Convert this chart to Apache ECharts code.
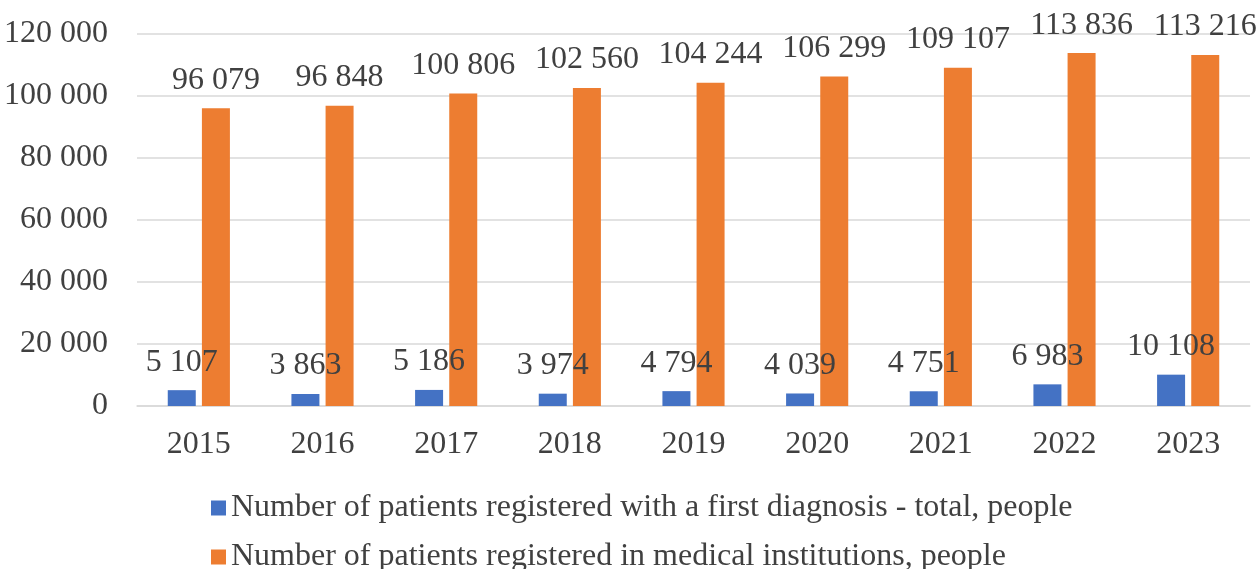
<!DOCTYPE html>
<html>
<head>
<meta charset="utf-8">
<script src="https://cdn.jsdelivr.net/npm/echarts@6/dist/echarts.min.js"></script>
<style>
  html, body { margin: 0; padding: 0; background: #fff; }
  #main { width: 1258px; height: 569px; }
</style>
</head>
<body>
<div id="main"></div>
<script>
const years = ['2015', '2016', '2017', '2018', '2019', '2020', '2021', '2022', '2023'];
const firstDiagnosis = [5107, 3863, 5186, 3974, 4794, 4039, 4751, 6983, 10108];
const registered = [96079, 96848, 100806, 102560, 104244, 106299, 109107, 113836, 113216];
const seriesNames = [
  'Number of patients registered with a first diagnosis - total, people',
  'Number of patients registered in medical institutions, people'
];

const font = '"Liberation Serif", "Times New Roman", serif';
const textColor = '#404040';
const fs = 32;

function spaced(v) {
  return String(v).replace(/\B(?=(\d{3})+(?!\d))/g, ' ');
}

// one legend per row, stacked
function legendRow(name, top) {
  return {
    left: 206,
    top: top,
    itemWidth: 15,
    itemHeight: 15,
    icon: 'rect',
    textStyle: { fontFamily: font, fontSize: fs, color: textColor, padding: [0, 0, 0, 0] },
    data: [name]
  };
}

const chart = echarts.init(document.getElementById('main'));

const option = {
  animation: false,
  textStyle: { fontFamily: font },
  grid: { left: 137, right: 8, top: 34, bottom: 163 },
  legend: [legendRow(seriesNames[0], 487), legendRow(seriesNames[1], 536)],
  xAxis: {
    type: 'category',
    data: years,
    axisTick: { show: false },
    axisLine: { lineStyle: { color: '#d9d9d9', width: 1.5 } },
    axisLabel: { fontFamily: font, fontSize: fs, color: textColor, margin: 23 }
  },
  yAxis: {
    type: 'value',
    min: 0,
    max: 120000,
    interval: 20000,
    axisLine: { show: false },
    axisTick: { show: false },
    splitLine: { lineStyle: { color: '#d9d9d9', width: 1.5 } },
    axisLabel: {
      fontFamily: font, fontSize: fs, color: textColor, margin: 29,
      formatter: spaced
    }
  },
  series: [
    {
      name: seriesNames[0],
      type: 'bar',
      data: firstDiagnosis,
      barWidth: 28,
      barGap: '22%',
      itemStyle: { color: '#4472C4' },
      label: {
        show: true, position: 'top', distance: 12,
        fontFamily: font, fontSize: fs, color: textColor,
        formatter: p => spaced(p.value)
      }
    },
    {
      name: seriesNames[1],
      type: 'bar',
      data: registered,
      barWidth: 28,
      itemStyle: { color: '#ED7D31' },
      label: {
        show: true, position: 'top', distance: 12,
        fontFamily: font, fontSize: fs, color: textColor,
        formatter: p => spaced(p.value)
      }
    }
  ]
};

chart.setOption(option);
</script>
</body>
</html>
